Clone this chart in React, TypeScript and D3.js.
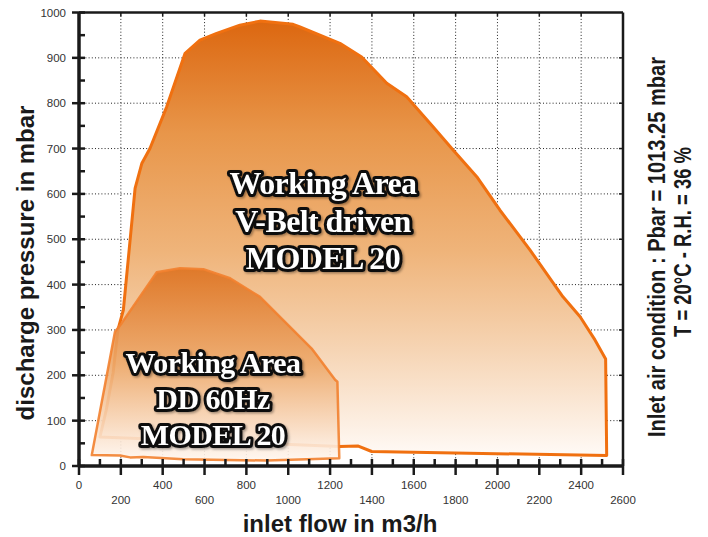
import React from 'react';
import * as d3 from 'd3';

// outline of the V-belt working area (flow m3/h, pressure mbar)
const vbeltFlow = [100, 130, 163, 186, 212, 268, 300, 339, 419, 507, 578, 658, 769, 865, 1023, 1056, 1247, 1351, 1471, 1566, 1692, 1788, 1901, 2012, 2156, 2313, 2395, 2466, 2517, 2522, 1399, 1335, 1244];
const vbeltPressure = [64, 123, 205, 300, 344, 612, 667, 700, 792, 910, 939, 954, 972, 981, 974, 968, 932, 902, 844, 814, 748, 697, 638, 564, 476, 373, 329, 278, 236, 23, 32, 44, 43];

// outline of the direct drive 60Hz working area
const ddFlow = [61, 172, 204, 371, 483, 594, 722, 865, 1112, 1224, 1235, 1244, 897, 498, 307, 244, 196];
const ddPressure = [24, 296, 315, 427, 436, 434, 414, 373, 259, 190, 186, 17, 12, 15, 20, 19, 23];

const xTickLabels = [0, 200, 400, 600, 800, 1000, 1200, 1400, 1600, 1800, 2000, 2200, 2400, 2600];
const yTickLabels = [0, 100, 200, 300, 400, 500, 600, 700, 800, 900, 1000];

const vbeltLabel = ['Working Area', 'V-Belt driven', 'MODEL 20'];
const ddLabel = ['Working Area', 'DD 60Hz', 'MODEL 20'];

const W = 708;
const H = 537;

export default function App() {
  const x = d3.scaleLinear().domain([0, 2600]).range([79, 623]);
  const y = d3.scaleLinear().domain([0, 1000]).range([466, 12.5]);

  const line = d3.line<number>()
    .x(i => x(i[0]))
    .y(i => y(i[1]));

  const vbeltPts = vbeltFlow.map((f, i) => [f, vbeltPressure[i]]);
  const ddPts = ddFlow.map((f, i) => [f, ddPressure[i]]);
  const vbeltPath = line(vbeltPts as any) + 'Z';
  const ddPath = line(ddPts as any) + 'Z';

  const minor100 = d3.range(0, 2601, 100);
  const minorY = d3.range(0, 1001, 50);
  const gridX = d3.range(200, 2600, 200);
  const gridY = d3.range(100, 1000, 100);

  const serif = '"Liberation Serif", "DejaVu Serif", serif';
  const sans = '"Liberation Sans", Arial, sans-serif';

  const outlined = {
    fill: '#fff',
    stroke: '#111',
    strokeWidth: 6,
    paintOrder: 'stroke',
    strokeLinejoin: 'round' as const,
    fontFamily: serif,
    fontWeight: 700,
    letterSpacing: '-0.6px',
  };

  return (
    <svg width={W} height={H} style={{ position: 'absolute', left: 0, top: 0, background: '#fff' }}>
      <defs>
        <linearGradient id="gVbelt" x1="0" y1="0" x2="0" y2="1">
          <stop offset="0" stopColor="#dc6710" />
          <stop offset="0.26" stopColor="#e8964a" />
          <stop offset="0.53" stopColor="#efb47a" />
          <stop offset="0.76" stopColor="#f6d5b5" />
          <stop offset="1" stopColor="#fffaf6" />
        </linearGradient>
        <linearGradient id="gDd" x1="0" y1="0" x2="0" y2="1">
          <stop offset="0" stopColor="#dd7220" />
          <stop offset="0.5" stopColor="#eda96b" />
          <stop offset="1" stopColor="#fff6ef" />
        </linearGradient>
        <filter id="shadow" x="-10%" y="-10%" width="120%" height="130%">
          <feDropShadow dx="1.5" dy="1.5" stdDeviation="1" floodColor="#000" floodOpacity="0.35" />
        </filter>
      </defs>

      {/* dotted grid */}
      <g stroke="#222" strokeWidth={1} strokeDasharray="1 2.2">
        {gridX.map(v => (
          <line key={'gx' + v} x1={x(v)} x2={x(v)} y1={y(1000)} y2={y(0)} />
        ))}
        {gridY.map(v => (
          <line key={'gy' + v} x1={x(0)} x2={x(2600)} y1={y(v)} y2={y(v)} />
        ))}
      </g>

      {/* areas */}
      <path d={vbeltPath} fill="url(#gVbelt)" stroke="#f07010" strokeWidth={3} strokeLinejoin="round" />
      <path d={ddPath} fill="url(#gDd)" fillOpacity={0.9} stroke="#f2812f" strokeOpacity={0.9} strokeWidth={2.5} strokeLinejoin="round" />

      {/* frame */}
      <g stroke="#1a1a1a">
        <line x1={x(0)} x2={x(2600)} y1={y(1000)} y2={y(1000)} strokeWidth={2.5} />
        <line x1={x(2600)} x2={x(2600)} y1={y(1000)} y2={y(0)} strokeWidth={2.5} />
        <line x1={x(0)} x2={x(2600)} y1={y(0)} y2={y(0)} strokeWidth={3.5} />
        <line x1={x(0)} x2={x(0)} y1={y(1000)} y2={y(0)} strokeWidth={3.5} />
        {minor100.map(v => (
          <line key={'tx' + v} x1={x(v)} x2={x(v)}
            y1={y(0) - 7} y2={v % 200 === 0 ? y(0) + 9 : y(0)} strokeWidth={2.5} />
        ))}
        {minorY.map(v => (
          <line key={'ty' + v} y1={y(v)} y2={y(v)}
            x1={v % 100 === 0 ? x(0) - 7 : x(0)} x2={x(0) + 6} strokeWidth={2.5} />
        ))}
        {gridX.map(v => (
          <line key={'tt' + v} x1={x(v)} x2={x(v)} y1={y(1000)} y2={y(1000) + 4} strokeWidth={1.5} />
        ))}
        {gridY.map(v => (
          <line key={'tr' + v} y1={y(v)} y2={y(v)} x1={x(2600) - 4} x2={x(2600)} strokeWidth={1.5} />
        ))}
      </g>

      {/* tick labels */}
      <g fontFamily={sans} fontSize={11.5} fill="#333">
        {xTickLabels.map(v => (
          <text key={'lx' + v} x={x(v)} y={v % 400 === 0 ? 489 : 504} textAnchor="middle">{v}</text>
        ))}
        {yTickLabels.map(v => (
          <text key={'ly' + v} x={66} y={y(v)} dy="0.35em" textAnchor="end">{v}</text>
        ))}
      </g>

      {/* area labels */}
      <g style={outlined} fontSize={32} textAnchor="middle" filter="url(#shadow)">
        {vbeltLabel.map((t, i) => (
          <text key={'vl' + i} x={323} y={194 + i * 37.5}>{t}</text>
        ))}
      </g>
      <g style={outlined} fontSize={30} textAnchor="middle" filter="url(#shadow)">
        {ddLabel.map((t, i) => (
          <text key={'dl' + i} x={213} y={373 + i * 36}>{t}</text>
        ))}
      </g>

      {/* axis titles */}
      <text x={340} y={532} textAnchor="middle" fontFamily={sans} fontWeight={700} fontSize={24} fill="#1a1a1a">
        inlet flow in m3/h
      </text>
      <text transform="translate(34,263) rotate(-90)" textAnchor="middle" fontFamily={sans} fontWeight={700} fontSize={24} fill="#1a1a1a">
        discharge pressure in mbar
      </text>
      <text transform="translate(665,247) rotate(-90)" textAnchor="middle" fontFamily={sans} fontWeight={700} fontSize={23}
        fill="#1a1a1a" textLength={380} lengthAdjust="spacingAndGlyphs">
        Inlet air condition : Pbar = 1013.25 mbar
      </text>
      <text transform="translate(691,242) rotate(-90)" textAnchor="middle" fontFamily={sans} fontWeight={700} fontSize={23}
        fill="#1a1a1a" textLength={190} lengthAdjust="spacingAndGlyphs">
        T = 20°C - R.H. = 36 %
      </text>
    </svg>
  );
}
